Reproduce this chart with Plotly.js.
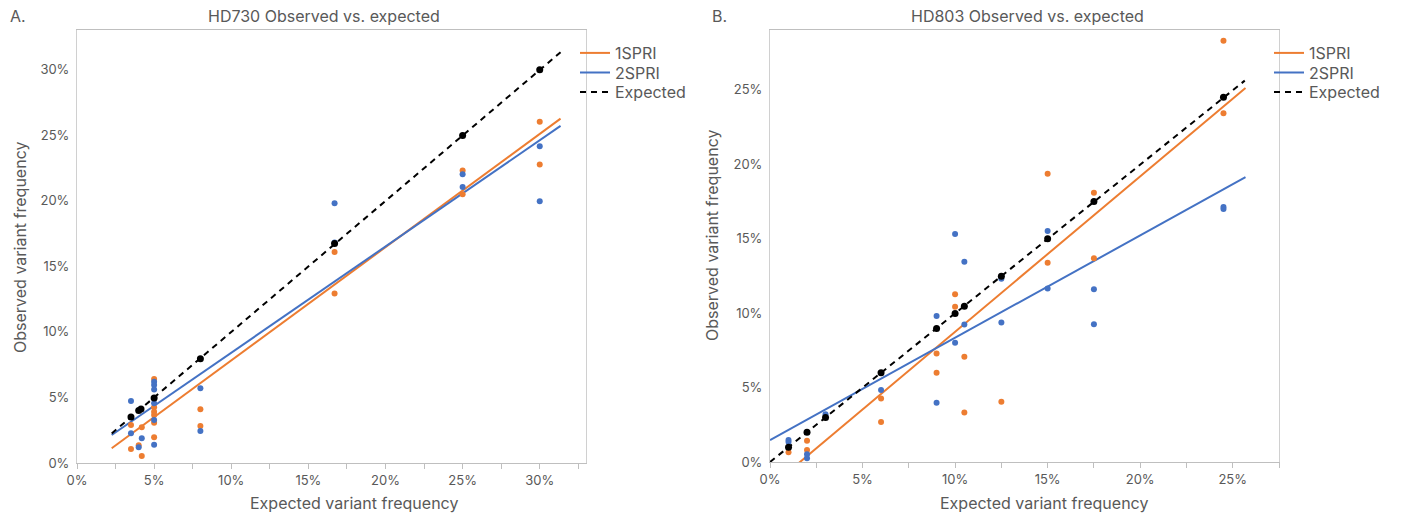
<!DOCTYPE html>
<html>
<head>
<meta charset="utf-8">
<script src="https://cdn.plot.ly/plotly-3.0.1.min.js"></script>
<style>html,body{margin:0;padding:0;background:#fff;}#chart{width:1402px;height:518px;}</style>
</head>
<body>
<div id="chart"></div>
<script>
// ---------- HD730 (panel A) ----------
const hd730_x_1spri = [0.035, 0.035, 0.040, 0.042, 0.042, 0.05, 0.05, 0.05, 0.05, 0.05, 0.05, 0.08, 0.08, 0.167, 0.167, 0.25, 0.25, 0.30, 0.30];
const hd730_y_1spri = [0.0289, 0.0107, 0.0135, 0.0272, 0.0053, 0.064, 0.0424, 0.0391, 0.0366, 0.0307, 0.0196, 0.0409, 0.0282, 0.1609, 0.1292, 0.2229, 0.2049, 0.260, 0.2275];
const hd730_x_2spri = [0.035, 0.035, 0.040, 0.042, 0.05, 0.05, 0.05, 0.05, 0.05, 0.05, 0.08, 0.08, 0.167, 0.167, 0.25, 0.25, 0.30, 0.30];
const hd730_y_2spri = [0.0472, 0.0226, 0.012, 0.0188, 0.0619, 0.0594, 0.0561, 0.0455, 0.0327, 0.014, 0.0569, 0.0244, 0.198, 0.168, 0.220, 0.2104, 0.2414, 0.1995];
const hd730_x_exp = [0.035, 0.040, 0.0415, 0.05, 0.08, 0.167, 0.25, 0.30];
const hd730_y_exp = [0.035, 0.040, 0.0412, 0.0495, 0.0795, 0.1673, 0.2496, 0.2998];
// trendline end points
const hd730_trend_x = [0.0225, 0.3135];
const hd730_trend_1spri = [0.0112, 0.2625];
const hd730_trend_2spri = [0.0213, 0.2569];
const hd730_trend_exp = [0.0225, 0.3130];

// ---------- HD803 (panel B) ----------
const hd803_x_1spri = [0.01, 0.02, 0.02, 0.06, 0.06, 0.09, 0.09, 0.10, 0.10, 0.105, 0.105, 0.125, 0.15, 0.15, 0.175, 0.175, 0.245, 0.245];
const hd803_y_1spri = [0.0065, 0.0143, 0.008, 0.0427, 0.0268, 0.0728, 0.0599, 0.1126, 0.1043, 0.0706, 0.0333, 0.0404, 0.1935, 0.1338, 0.1807, 0.1367, 0.2828, 0.2341];
const hd803_x_2spri = [0.01, 0.01, 0.02, 0.02, 0.03, 0.06, 0.09, 0.09, 0.10, 0.10, 0.105, 0.105, 0.125, 0.125, 0.15, 0.15, 0.175, 0.175, 0.245, 0.245];
const hd803_y_2spri = [0.0147, 0.0134, 0.0052, 0.0025, 0.032, 0.0483, 0.098, 0.0397, 0.153, 0.080, 0.1345, 0.0923, 0.123, 0.0936, 0.155, 0.1164, 0.116, 0.0925, 0.1711, 0.1698];
const hd803_x_exp = [0.01, 0.02, 0.03, 0.06, 0.09, 0.10, 0.105, 0.125, 0.15, 0.175, 0.245];
const hd803_y_exp = [0.0099, 0.0199, 0.0299, 0.0599, 0.0896, 0.0997, 0.1046, 0.1247, 0.1499, 0.1749, 0.2448];
const hd803_trend_x = [0.0, 0.2569];
const hd803_trend_1spri = [-0.0169, 0.2511];
const hd803_trend_2spri = [0.0147, 0.1912];
const hd803_trend_exp_x = [0.0, 0.2565];
const hd803_trend_exp = [0.0, 0.2560];

const seriesNames = ['1SPRI', '2SPRI', 'Expected'];
const ORANGE = '#ED7D31', BLUE = '#4472C4', BLACK = '#000000', TXT = '#595959';

function pts(x, y, color, size, xa, ya) {
  return {type: 'scatter', mode: 'markers', x: x, y: y, xaxis: xa, yaxis: ya,
    marker: {color: color, size: size}, showlegend: false, hoverinfo: 'x+y'};
}
function trend(x, y, color, dash, name, xa, ya, lg) {
  return {type: 'scatter', mode: 'lines', x: x, y: y, xaxis: xa, yaxis: ya, name: name,
    line: {color: color, width: 2, dash: dash}, legend: lg, showlegend: true};
}

const traces = [
  trend(hd730_trend_x, hd730_trend_1spri, ORANGE, 'solid', seriesNames[0], 'x', 'y', 'legend'),
  trend(hd730_trend_x, hd730_trend_2spri, BLUE, 'solid', seriesNames[1], 'x', 'y', 'legend2'),
  trend(hd730_trend_x, hd730_trend_exp, BLACK, '6px,5px', seriesNames[2], 'x', 'y', 'legend3'),
  pts(hd730_x_1spri, hd730_y_1spri, ORANGE, 6, 'x', 'y'),
  pts(hd730_x_2spri, hd730_y_2spri, BLUE, 6, 'x', 'y'),
  pts(hd730_x_exp, hd730_y_exp, BLACK, 7, 'x', 'y'),

  trend(hd803_trend_x, hd803_trend_1spri, ORANGE, 'solid', seriesNames[0], 'x2', 'y2', 'legend4'),
  trend(hd803_trend_x, hd803_trend_2spri, BLUE, 'solid', seriesNames[1], 'x2', 'y2', 'legend5'),
  trend(hd803_trend_exp_x, hd803_trend_exp, BLACK, '6px,5px', seriesNames[2], 'x2', 'y2', 'legend6'),
  pts(hd803_x_1spri, hd803_y_1spri, ORANGE, 6, 'x2', 'y2'),
  pts(hd803_x_2spri, hd803_y_2spri, BLUE, 6, 'x2', 'y2'),
  pts(hd803_x_exp, hd803_y_exp, BLACK, 7, 'x2', 'y2')
];

const W = 1402, H = 518;
const px = v => v / W, py = v => 1 - v / H;
const tickFont = {family: 'Inter, sans-serif', size: 13, color: TXT};

function xax(domain, range) {
  return {domain: domain, range: range, tickformat: '.0%', dtick: 0.05, tick0: 0,
    ticks: 'outside', ticklen: 5, tickcolor: '#bfbfbf', showgrid: false, zeroline: false,
    showline: true, linecolor: '#bfbfbf', linewidth: 1, mirror: true, tickfont: tickFont,
    minor: {dtick: 0.025, ticks: 'outside', ticklen: 5, tickcolor: '#bfbfbf', showgrid: false},
    fixedrange: true};
}
function yax(domain, range, anchor) {
  return {domain: domain, range: range, tickformat: '.0%', dtick: 0.05, tick0: 0, anchor: anchor,
    ticks: '', showgrid: false, zeroline: false, showline: true, linecolor: '#d0d0d0',
    linewidth: 1, mirror: true, tickfont: tickFont, ticklabelstandoff: 4, fixedrange: true};
}

const titleFont = {family: 'Inter, sans-serif', size: 16, color: TXT};
function ann(text, x, y, extra) {
  return Object.assign({text: text, x: px(x), y: py(y), xref: 'paper', yref: 'paper',
    showarrow: false, font: titleFont, xanchor: 'center', yanchor: 'middle'}, extra || {});
}
const legendFont = {family: 'Inter, sans-serif', size: 16, color: TXT};
function leg(xPix, topPix) {
  return {x: px(xPix), y: py(topPix), xanchor: 'left', yanchor: 'top', bgcolor: 'rgba(0,0,0,0)',
    font: legendFont, itemwidth: 30, borderwidth: 0};
}

const layout = {
  width: W, height: H,
  margin: {l: 0, r: 0, t: 0, b: 0},
  paper_bgcolor: '#ffffff', plot_bgcolor: '#ffffff',
  xaxis: xax([px(77), px(586)], [0, 0.33]),
  yaxis: yax([py(463), py(30)], [0, 0.33], 'x'),
  xaxis2: Object.assign(xax([px(770), px(1279)], [0, 0.275]), {anchor: 'y2'}),
  yaxis2: yax([py(462), py(30)], [0, 0.29], 'x2'),
  legend: leg(575, 36),
  legend2: leg(575, 55.5),
  legend3: leg(575, 75),
  legend4: leg(1269, 36),
  legend5: leg(1269, 55.5),
  legend6: leg(1269, 75),
  annotations: [
    ann('A.', 18, 16),
    ann('HD730 Observed vs. expected', 324, 16),
    ann('B.', 719, 16),
    ann('HD803 Observed vs. expected', 1027, 16),
    ann('Expected variant frequency', 354, 503),
    ann('Expected variant frequency', 1044, 503),
    ann('Observed variant frequency', 20, 248, {textangle: -90}),
    ann('Observed variant frequency', 712, 236, {textangle: -90})
  ],
  showlegend: true
};

Plotly.newPlot('chart', traces, layout, {displayModeBar: false, staticPlot: true});
</script>
</body>
</html>
